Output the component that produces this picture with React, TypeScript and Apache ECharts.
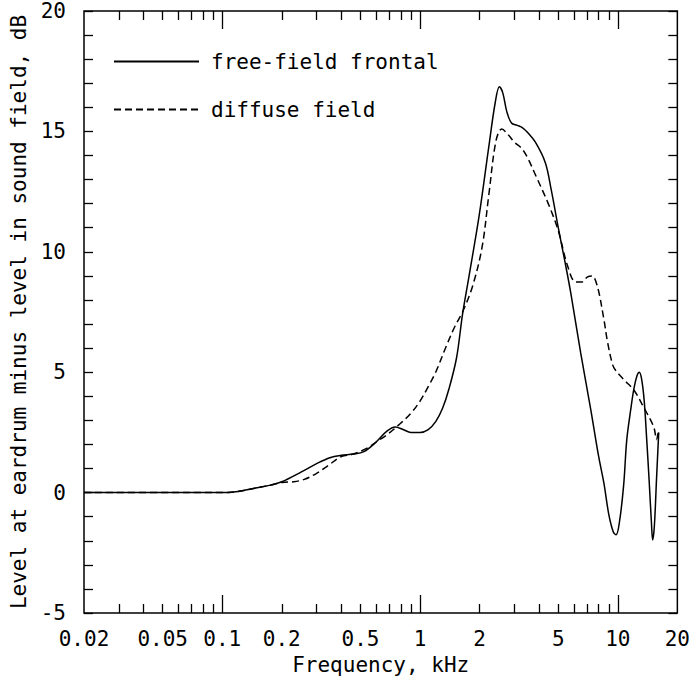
import { useEffect, useRef } from 'react';
import * as echarts from 'echarts';

// Free-field frontal (solid)
const freqFront = [0.02, 0.05, 0.08, 0.1, 0.12, 0.15, 0.173, 0.2, 0.25, 0.3, 0.35, 0.4, 0.46, 0.52, 0.6, 0.68, 0.75, 0.82, 0.9, 1.0, 1.1, 1.2, 1.3, 1.4, 1.53, 1.64, 1.77, 1.99, 2.23, 2.4, 2.52, 2.62, 2.75, 2.9, 3.1, 3.3, 3.5, 3.83, 4.3, 4.6, 5.0, 5.4, 5.78, 6.49, 7.28, 8.0, 8.5, 9.0, 9.5, 9.8, 10.2, 10.7, 11.1, 11.6, 12.05, 12.5, 12.85, 13.2, 13.6, 14.0, 14.4, 14.8, 15.0, 15.3, 15.7, 16.1];
const levelFront = [0, 0, 0, 0, 0.05, 0.2, 0.3, 0.45, 0.85, 1.2, 1.45, 1.55, 1.6, 1.7, 2.1, 2.55, 2.72, 2.62, 2.5, 2.5, 2.62, 2.95, 3.5, 4.3, 5.6, 7.4, 9.0, 11.5, 14.4, 16.2, 16.85, 16.6, 15.8, 15.35, 15.25, 15.15, 14.95, 14.55, 13.7, 12.6, 11.0, 9.6, 8.3, 5.8, 3.5, 1.5, 0.4, -0.9, -1.65, -1.75, -1.2, 0.3, 2.2, 3.4, 4.3, 4.85, 5.0, 4.7, 3.8, 2.2, 0.5, -1.3, -1.97, -1.4, 0.6, 2.5];

// Diffuse field (dashed)
const freqDiffuse = [0.02, 0.05, 0.08, 0.1, 0.12, 0.15, 0.173, 0.2, 0.23, 0.26, 0.3, 0.34, 0.4, 0.46, 0.54, 0.6, 0.68, 0.79, 0.9, 1.0, 1.1, 1.2, 1.36, 1.5, 1.64, 1.84, 2.06, 2.23, 2.42, 2.59, 2.8, 3.0, 3.26, 3.5, 3.83, 4.45, 4.99, 5.58, 6.12, 6.6, 7.0, 7.4, 7.89, 8.5, 8.85, 9.38, 9.7, 10.7, 12.05, 13.5, 15.2, 15.7, 16.0];
const levelDiffuse = [0, 0, 0, 0, 0.05, 0.2, 0.3, 0.42, 0.45, 0.55, 0.8, 1.1, 1.5, 1.6, 1.85, 2.1, 2.4, 2.85, 3.3, 3.8, 4.4, 5.0, 6.1, 6.9, 7.5, 8.55, 10.2, 12.4, 14.6, 15.1, 14.85, 14.55, 14.3, 13.9, 13.2, 12.0, 10.9, 9.4, 8.75, 8.75, 8.95, 9.0, 8.55, 7.2, 6.3, 5.35, 5.1, 4.7, 4.26, 3.55, 2.72, 2.2, 2.5];

const xMin = 0.02;
const xMax = 20;
const xTickLabels = [0.02, 0.05, 0.1, 0.2, 0.5, 1, 2, 5, 10, 20];
const xMajorTicks = [0.1, 1, 10];
const xMinorTicks = [0.03, 0.04, 0.05, 0.06, 0.07, 0.08, 0.09, 0.2, 0.3, 0.4, 0.5, 0.6, 0.7, 0.8, 0.9, 2, 3, 4, 5, 6, 7, 8, 9];
const yMin = -5;
const yMax = 20;
const yLabelStep = 5;

const seriesNames = ['free-field frontal', 'diffuse field'];

const FONT = 'DejaVu Sans Mono';
const FS = 21;

export default function App() {
  const ref = useRef<HTMLDivElement>(null);
  useEffect(() => {
    if (!ref.current) return;
    const chart = echarts.init(ref.current, undefined, { renderer: 'svg' });
    const nudge = (v: number) => (v <= xMin ? v * 1.000001 : v >= xMax ? v * 0.999999 : v);
    const baseX = (position: 'top' | 'bottom', ticks: number[], len: number, labels: boolean) => ({
      type: 'log',
      logBase: 10,
      min: xMin,
      max: xMax,
      position,
      gridIndex: 0,
      axisLine: { show: false, onZero: false },
      splitLine: { show: false },
      minorTick: { show: false },
      axisTick: {
        show: true,
        inside: true,
        length: len,
        customValues: ticks,
        lineStyle: { color: '#000', width: 1.3 },
      },
      axisLabel: labels
        ? {
            show: true,
            customValues: xTickLabels.map(nudge),
            formatter: (v: number) => String(+Number(v).toPrecision(2)),
            fontFamily: FONT,
            fontSize: FS,
            color: '#000',
            margin: 15,
          }
        : { show: false },
    });
    const xAxes: any[] = [
      {
        ...baseX('bottom', xMinorTicks, 9, true),
        name: 'Frequency, kHz',
        nameLocation: 'middle',
        nameGap: 41,
        nameTextStyle: { fontFamily: FONT, fontSize: FS, color: '#000' },
      },
      baseX('bottom', xMajorTicks, 18, false),
      baseX('top', xMinorTicks, 9, false),
      baseX('top', xMajorTicks, 18, false),
    ];
    const baseY = (position: 'left' | 'right', labels: boolean) => ({
      type: 'value',
      min: yMin,
      max: yMax,
      interval: 1,
      position,
      axisLine: { show: false, onZero: false },
      splitLine: { show: false },
      axisTick: { show: true, inside: true, length: 9, lineStyle: { color: '#000', width: 1.3 } },
      axisLabel: labels
        ? {
            show: true,
            formatter: (v: number) => (v % yLabelStep === 0 ? String(v) : ''),
            fontFamily: FONT,
            fontSize: FS,
            color: '#000',
            margin: 18,
          }
        : { show: false },
    });
    const yAxes: any[] = [
      {
        ...baseY('left', true),
        name: 'Level at eardrum minus level in sound field, dB',
        nameLocation: 'middle',
        nameGap: 55,
        nameTextStyle: { fontFamily: FONT, fontSize: FS, color: '#000' },
      },
      baseY('right', false),
    ];
    chart.setOption({
      animation: false,
      backgroundColor: '#fff',
      grid: {
        left: 79,
        top: 11,
        width: 602,
        height: 602,
        show: true,
        borderColor: '#000',
        borderWidth: 1.5,
        backgroundColor: 'transparent',
        containLabel: false,
      },
      legend: {
        data: seriesNames,
        orient: 'vertical',
        left: 108,
        top: 46,
        itemWidth: 85,
        itemHeight: 20,
        itemGap: 27,
        itemStyle: { opacity: 0 },
        textStyle: { fontFamily: FONT, fontSize: FS, color: '#000', lineHeight: 20, padding: [0, 0, 0, 7] },
        selectedMode: false,
      },
      xAxis: xAxes,
      yAxis: yAxes,
      series: [
        {
          name: seriesNames[0],
          type: 'line',
          xAxisIndex: 0,
          yAxisIndex: 0,
          data: freqFront.map((f, i) => [f, levelFront[i]]),
          symbol: 'none',
          showSymbol: false,
          smooth: 0.35,
          lineStyle: { color: '#000', width: 1.5, type: 'solid' },
          itemStyle: { color: '#000' },
        },
        {
          name: seriesNames[1],
          type: 'line',
          xAxisIndex: 0,
          yAxisIndex: 0,
          data: freqDiffuse.map((f, i) => [f, levelDiffuse[i]]),
          symbol: 'none',
          showSymbol: false,
          smooth: 0.35,
          lineStyle: { color: '#000', width: 1.5, type: [7, 4] },
          itemStyle: { color: '#000' },
        },
      ],
    });
    return () => chart.dispose();
  }, []);
  return (
    <div
      ref={ref}
      style={{ position: 'fixed', left: 0, top: 0, width: 693, height: 691, background: '#fff' }}
    />
  );
}
